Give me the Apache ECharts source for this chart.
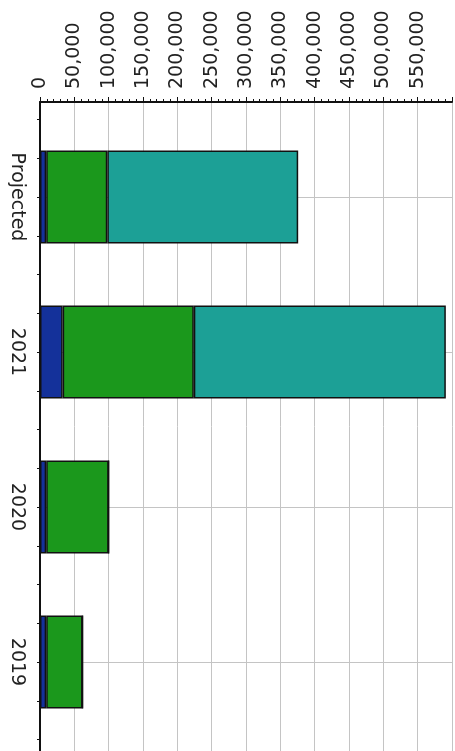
<!DOCTYPE html>
<html>
<head>
<meta charset="utf-8">
<script src="https://cdn.jsdelivr.net/npm/echarts@6/dist/echarts.min.js"></script>
<style>
html,body{margin:0;padding:0;background:#fff;}
#chart{width:455px;height:751px;}
</style>
</head>
<body>
<div id="chart"></div>
<script>
const categories = ['Projected', '2021', '2020', '2019'];
const navyValues = [9000, 33000, 9000, 9000];
const greenValues = [89000, 191000, 91000, 53000];
const tealValues = [278000, 367000, 0, 0];
const valueMax = 600000;
const valueStep = 50000;

const chart = echarts.init(document.getElementById('chart'), null, {renderer: 'canvas'});
const font = 'DejaVu Sans';
const barStyle = (c) => ({color: c, borderColor: '#111', borderWidth: 1.5});

chart.setOption({
  animation: false,
  backgroundColor: '#fff',
  grid: [
    {left: 40, right: 3, top: 119.5, height: 620},   // bars
    {left: 40, right: 3, top: 102, bottom: 0},       // frame + value axis
    {left: 40, right: 3, top: 197, height: 465}      // category centre lines
  ],
  xAxis: [
    {gridIndex: 0, type: 'value', min: 0, max: valueMax, show: false},
    {gridIndex: 1, type: 'value', position: 'top', min: 0, max: valueMax, interval: valueStep,
      axisLine: {show: true, onZero: false, lineStyle: {color: '#111', width: 2}},
      axisTick: {show: true, length: 5, lineStyle: {color: '#111'}},
      minorTick: {show: true, splitNumber: 5, length: 3, lineStyle: {color: '#111'}},
      splitLine: {show: true, lineStyle: {color: '#c4c4c4', width: 1}},
      axisLabel: {rotate: -90, fontFamily: font, fontSize: 19, color: '#222', margin: 13, showMaxLabel: false}
    },
    {gridIndex: 2, type: 'value', min: 0, max: valueMax, show: false}
  ],
  yAxis: [
    {gridIndex: 0, type: 'category', inverse: true, data: categories,
      axisLine: {show: false}, axisTick: {show: false}, splitLine: {show: false},
      axisLabel: {rotate: -90, fontFamily: font, fontSize: 19, color: '#222', margin: 14}
    },
    {gridIndex: 0, type: 'value', min: 0, max: 16, interval: 1, position: 'left',
      axisLine: {show: false, onZero: false}, axisLabel: {show: false}, splitLine: {show: false},
      axisTick: {show: true, length: 3, lineStyle: {color: '#111'}}
    },
    {gridIndex: 1, type: 'value', min: 0, max: 1, inverse: true,
      axisLine: {show: true, onZero: false, lineStyle: {color: '#111', width: 2}},
      axisTick: {show: false}, axisLabel: {show: false}, splitLine: {show: false}
    },
    {gridIndex: 2, type: 'value', min: 0, max: 3, interval: 1,
      axisLine: {show: false, onZero: false}, axisTick: {show: false}, axisLabel: {show: false},
      splitLine: {show: true, lineStyle: {color: '#c4c4c4', width: 1}}
    }
  ],
  series: [
    {type: 'bar', name: 'navy', xAxisIndex: 0, yAxisIndex: 0, stack: 's', barWidth: 93,
      data: navyValues, itemStyle: barStyle('#14319a')},
    {type: 'bar', name: 'green', xAxisIndex: 0, yAxisIndex: 0, stack: 's', barWidth: 93,
      data: greenValues, itemStyle: barStyle('#1b981c')},
    {type: 'bar', name: 'teal', xAxisIndex: 0, yAxisIndex: 0, stack: 's', barWidth: 93,
      data: tealValues, itemStyle: barStyle('#1ca096')}
  ]
});
</script>
</body>
</html>
